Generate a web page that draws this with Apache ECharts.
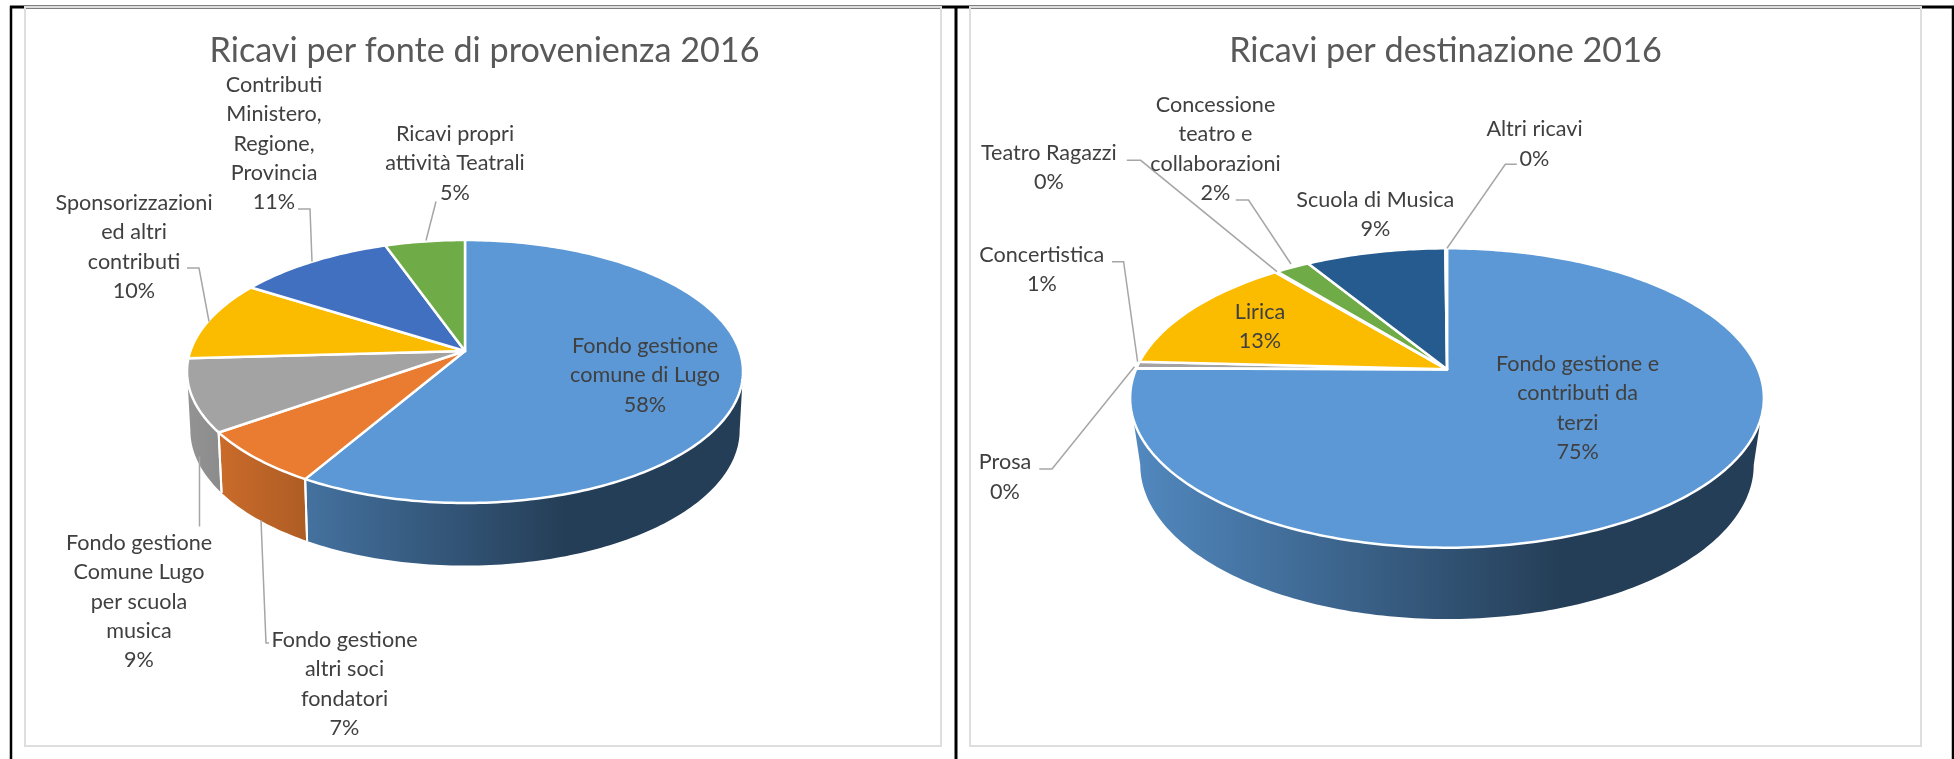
<!DOCTYPE html>
<html>
<head>
<meta charset="utf-8">
<title>Ricavi 2016</title>
<script src="https://cdn.jsdelivr.net/npm/echarts@6/dist/echarts.min.js"></script>
<style>html,body{margin:0;padding:0;background:#fff}#main{width:1954px;height:759px}</style>
</head>
<body>
<div id="main"></div>
<script>
// ---- data ----
const fonteTitle = 'Ricavi per fonte di provenienza 2016';
const fonteNames = ['Fondo gestione\ncomune di Lugo', 'Fondo gestione\naltri soci\nfondatori', 'Fondo gestione\nComune Lugo\nper scuola\nmusica', 'Sponsorizzazioni\ned altri\ncontributi', 'Contributi\nMinistero,\nRegione,\nProvincia', 'Ricavi propri\nattività Teatrali'];
const fonteValues = [58.4, 6.8, 8.9, 9.9, 10.6, 5.4];
const fonteColors = ['#5b98d5', '#ea7c31', '#a3a3a3', '#fbbc00', '#4270c0', '#6fab47'];

const destTitle = 'Ricavi per destinazione 2016';
const destNames = ['Fondo gestione e\ncontributi da\nterzi', 'Prosa', 'Concertistica', 'Lirica', 'Teatro Ragazzi', 'Concessione\nteatro e\ncollaborazioni', 'Scuola di Musica', 'Altri ricavi'];
const destValues = [75.1, 0.05, 0.7, 13.2, 0.15, 2.1, 8.6, 0.1];
const destColors = ['#5b98d5', '#ea7c31', '#a3a3a3', '#fbbc00', '#4270c0', '#6fab47', '#255b8e', '#9e480e'];

// ---- label placement: centre x, y of first line centre, leader polyline ----
const fonteLabels = [
  { x: 645, y: 346 },
  { x: 344.5, y: 640, leader: [[269, 643], [266, 643], [261, 520]] },
  { x: 139, y: 543, leader: [[199.5, 526.5], [199.5, 456.5]] },
  { x: 134, y: 203, leader: [[187, 268], [199, 268], [209, 321.5]] },
  { x: 274, y: 85, leader: [[298, 209], [310, 209], [312, 261.5]] },
  { x: 455, y: 134, leader: [[436, 201.5], [426, 240.5]] }
];
const destLabels = [
  { x: 1577.6, y: 364 },
  { x: 1005, y: 462.3, leader: [[1039.3, 469], [1052, 469], [1134.4, 366.7]] },
  { x: 1041.8, y: 255, leader: [[1112, 261.7], [1123.6, 261.7], [1137.6, 361.7]] },
  { x: 1260, y: 312 },
  { x: 1048.8, y: 152.7, leader: [[1126.8, 160.3], [1140.7, 160.3], [1277, 271.7]] },
  { x: 1215.5, y: 105, leader: [[1235.8, 200], [1248.5, 200], [1291, 264]] },
  { x: 1375.3, y: 200 },
  { x: 1534.5, y: 129.3, leader: [[1516.8, 164.3], [1505.3, 164.3], [1447, 248.3]] }
];

// ---- perspective geometry of each pie ----
const fonteGeom = { cx: 465, y0: 351, k: 128.3, K: 274.6, c: -0.156, rx: 278, dy: 58, sx: 0.988, sy: 1.03 };
const destGeom = { cx: 1447, y0: 369.3, k: 144.2, K: 311, c: -0.1917, rx: 317, dy: 66, sx: 0.968, sy: 1.03 };

const LINE_H = 29.3;
const FONT = 'Lato, "Open Sans", sans-serif';

function rimPoint(g, frac, lower) {
  const a = frac * 2 * Math.PI, u = Math.sin(a), v = -Math.cos(a), w = 1 + g.c * v;
  return lower
    ? [g.cx + g.K * g.sx * u / w, g.y0 + g.dy + g.k * g.sy * v / w]
    : [g.cx + g.K * u / w, g.y0 + g.k * v / w];
}
function arc(g, from, to, lower) {
  const n = Math.max(2, Math.ceil((to - from) * 360)), pts = [];
  for (let i = 0; i <= n; i++) pts.push(rimPoint(g, from + (to - from) * i / n, lower));
  return pts;
}
function shade(hex, f) {
  const n = parseInt(hex.slice(1), 16);
  return 'rgb(' + [(n >> 16) & 255, (n >> 8) & 255, n & 255].map(c => Math.round(c * f)).join(',') + ')';
}
function rows(values) {
  const total = values.reduce((a, b) => a + b, 0);
  let acc = 0;
  return values.map((v, i) => { const s = acc / total; acc += v; return [s, acc / total, v, i]; });
}

function sideSeries(g, values, colors) {
  // only the part of the rim facing the viewer shows a wall: it runs between the two silhouette points
  const lo = Math.acos(g.c) / (2 * Math.PI), hi = 1 - lo;
  return {
    type: 'custom', coordinateSystem: 'none', silent: true, z: 2, animation: false,
    data: rows(values),
    renderItem(params, api) {
      const from = Math.max(api.value(0), lo), to = Math.min(api.value(1), hi), col = colors[api.value(3)];
      if (to <= from) return { type: 'group', children: [] };
      const upper = arc(g, from, to, false), lower = arc(g, from, to, true).reverse();
      const children = [{
        type: 'polygon', shape: { points: upper.concat(lower) },
        style: {
          fill: {
            type: 'linear', global: true, x: g.cx - g.rx, y: 0, x2: g.cx + g.rx, y2: 0,
            colorStops: [
              { offset: 0, color: shade(col, 0.9) },
              { offset: 0.68, color: shade(col, 0.41) },
              { offset: 1, color: shade(col, 0.41) }
            ]
          }
        }
      }];
      [api.value(0), api.value(1)].forEach(f => {
        if (f > lo && f < hi) {
          const a = rimPoint(g, f, false), b = rimPoint(g, f, true);
          children.push({ type: 'line', shape: { x1: a[0], y1: a[1], x2: b[0], y2: b[1] }, style: { stroke: '#fff', lineWidth: 2 }, z2: 5 });
        }
      });
      return { type: 'group', children };
    }
  };
}
function topSeries(g, values, colors) {
  return {
    type: 'custom', coordinateSystem: 'none', silent: true, z: 3, animation: false,
    data: rows(values),
    renderItem(params, api) {
      const pts = [[g.cx, g.y0]].concat(arc(g, api.value(0), api.value(1), false));
      return {
        type: 'polygon', shape: { points: pts },
        style: { fill: colors[api.value(3)], stroke: '#fff', lineWidth: 2.5, lineJoin: 'round' }
      };
    }
  };
}
function labelSeries(values, names, layout) {
  return {
    type: 'custom', coordinateSystem: 'none', silent: true, z: 4, animation: false,
    data: rows(values),
    renderItem(params, api) {
      const i = api.value(3), l = layout[i];
      const children = [{
        type: 'text',
        style: {
          text: names[i] + '\n' + Math.round(api.value(2)) + '%',
          x: l.x, y: l.y - LINE_H / 2, align: 'center', verticalAlign: 'top',
          font: '21.6px ' + FONT, lineHeight: LINE_H, fill: '#404040'
        }
      }];
      if (l.leader) children.push({
        type: 'polyline', shape: { points: l.leader },
        style: { fill: 'none', stroke: '#a6a6a6', lineWidth: 1.5 }
      });
      return { type: 'group', children };
    }
  };
}

const titleStyle = { fontFamily: FONT, fontSize: 34.2, fontWeight: 'normal', color: '#595959' };
const frame = (x, w) => ({ type: 'rect', shape: { x, y: 7, width: w, height: 739 }, style: { fill: 'none', stroke: '#dedede', lineWidth: 2 }, z: 1 });
const rule = (x1, y1, x2, y2, lw) => ({ type: 'line', shape: { x1, y1, x2, y2 }, style: { stroke: '#000', lineWidth: lw }, z: 0 });

const option = {
  backgroundColor: '#fff',
  animation: false,
  title: [
    { text: fonteTitle, left: 479.5, top: 29, textAlign: 'center', textStyle: titleStyle },
    { text: destTitle, left: 1440.5, top: 29, textAlign: 'center', textStyle: titleStyle }
  ],
  graphic: [
    rule(10, 7, 1954, 7, 3),
    rule(11, 6, 11, 759, 2.5),
    rule(956, 6, 956, 759, 3),
    rule(1953, 6, 1953, 759, 2.5),
    frame(25, 916),
    frame(970, 951)
  ],
  series: [
    sideSeries(fonteGeom, fonteValues, fonteColors),
    topSeries(fonteGeom, fonteValues, fonteColors),
    labelSeries(fonteValues, fonteNames, fonteLabels),
    sideSeries(destGeom, destValues, destColors),
    topSeries(destGeom, destValues, destColors),
    labelSeries(destValues, destNames, destLabels)
  ]
};
echarts.init(document.getElementById('main')).setOption(option);
</script>
</body>
</html>
